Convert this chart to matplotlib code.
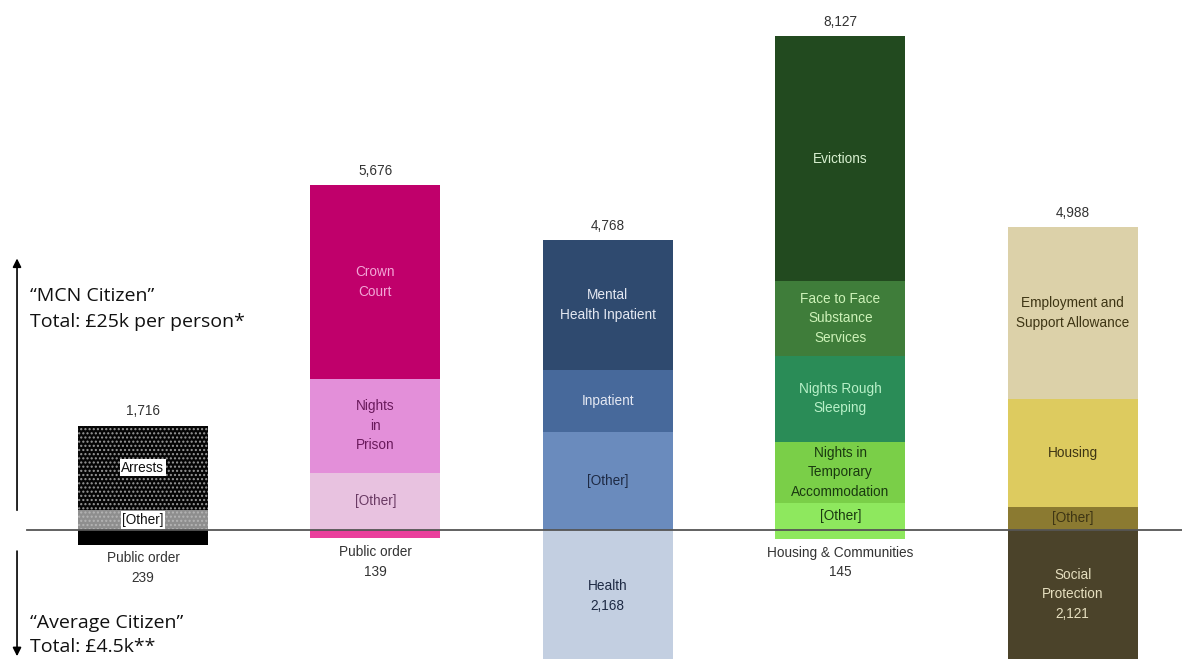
import matplotlib
matplotlib.use("Agg")
import matplotlib.pyplot as plt

# --- data -------------------------------------------------------------
categories = ["Public order", "Public order", "Health",
              "Housing & Communities", "Social Protection"]
totals = [1716, 5676, 4768, 8127, 4988]          # "MCN citizen" stack totals
average = [239, 139, 2168, 145, 2121]            # "average citizen" (below line)

# stacked segments, bottom -> top
seg_names_1 = ["[Other]", "Arrests"]
seg_vals_1 = [330, 1386]
seg_names_2 = ["[Other]", "Nights\nin\nPrison", "Crown\nCourt"]
seg_vals_2 = [940, 1550, 3186]
seg_names_3 = ["[Other]", "Inpatient", "Mental\nHealth Inpatient"]
seg_vals_3 = [1620, 1020, 2128]
seg_names_4 = ["[Other]", "Nights in\nTemporary\nAccommodation", "Nights Rough\nSleeping",
               "Face to Face\nSubstance\nServices", "Evictions"]
seg_vals_4 = [445, 1005, 1420, 1220, 4037]
seg_names_5 = ["[Other]", "Housing", "Employment and\nSupport Allowance"]
seg_vals_5 = [380, 1780, 2828]

seg_names = [seg_names_1, seg_names_2, seg_names_3, seg_names_4, seg_names_5]
seg_vals = [seg_vals_1, seg_vals_2, seg_vals_3, seg_vals_4, seg_vals_5]

# --- styling ----------------------------------------------------------
seg_colors = [
    ["#8e8e8e", "#050505"],
    ["#e8c2e0", "#e38fd9", "#c0006b"],
    ["#6a8bbd", "#47699b", "#2f4a6f"],
    ["#8ee85e", "#7acf48", "#2a8c57", "#3f7d3a", "#224a1f"],
    ["#8b7a31", "#ddcb5f", "#dcd1a9"],
]
seg_text = [
    ["#111111", "#111111"],
    ["#6a3a64", "#6a1a5c", "#f2a6d6"],
    ["#1e2a44", "#e4e8f2", "#e4e8f2"],
    ["#1a3a10", "#1a3a10", "#b8f0c8", "#cdf2b8", "#d8f0d0"],
    ["#3e3514", "#3e3514", "#3e3514"],
]
below_colors = ["#000000", "#ea3f9c", "#c3cfe1", "#8ee85e", "#4b432a"]
below_text = [None, None, "#1e2a44", None, "#e6dfbf"]

FONT = ["Liberation Sans", "DejaVu Sans"]
FS = 9.8
x = list(range(len(categories)))
width = 0.56

fig = plt.figure(figsize=(11.82, 6.59), dpi=100)
ax = fig.add_axes([0, 0, 1, 1])
ax.set_xlim(-0.615, 4.47)
ax.set_ylim(-2122, 8719)
ax.axis("off")

for i in x:
    bottom = 0
    for j, (name, val) in enumerate(zip(seg_names[i], seg_vals[i])):
        if i == 0:
            hatch_col = "#9a9a9a" if j == 1 else "#b4b4b4"
            ax.bar(i, val, width, bottom=bottom, color=seg_colors[i][j],
                   edgecolor=hatch_col, linewidth=0, hatch="....")
            ax.text(i, bottom + val / 2, name, ha="center", va="center",
                    fontsize=FS, family=FONT, color=seg_text[i][j],
                    bbox=dict(facecolor="white", edgecolor="none", pad=1.2))
        else:
            ax.bar(i, val, width, bottom=bottom, color=seg_colors[i][j], linewidth=0)
            ax.text(i, bottom + val / 2, name, ha="center", va="center",
                    fontsize=FS, family=FONT, color=seg_text[i][j],
                    linespacing=1.5)
        bottom += val
    ax.text(i, totals[i] + 120, f"{totals[i]:,}", ha="center", va="bottom",
            fontsize=FS, family=FONT, color="#333333")

    # average-citizen bar below the line
    ax.bar(i, -average[i], width, color=below_colors[i], linewidth=0)
    if below_text[i]:
        ax.text(i, -average[i] / 2, f"{categories[i].replace(' ', chr(10))}\n{average[i]:,}",
                ha="center", va="center", fontsize=FS, family=FONT,
                color=below_text[i], linespacing=1.5)
    else:
        ax.text(i, -average[i] - 110, f"{categories[i]}\n{average[i]:,}",
                ha="center", va="top", fontsize=FS, family=FONT,
                color="#333333", linespacing=1.5)

ax.axhline(0, xmin=0.023, xmax=1, color="#555555", lw=1.3, zorder=5)

# left-hand annotations
fig.patches.append(matplotlib.patches.FancyArrowPatch(
    (0.0144, 0.2215), (0.0144, 0.612), transform=fig.transFigure,
    arrowstyle="-|>,head_length=5,head_width=2.5", color="black", lw=1.2))
fig.patches.append(matplotlib.patches.FancyArrowPatch(
    (0.0144, 0.168), (0.0144, 0.0), transform=fig.transFigure,
    arrowstyle="-|>,head_length=5,head_width=2.5", color="black", lw=1.2))

LEFT_FONT = ["Open Sans", "DejaVu Sans"]
fig.text(0.0254, 0.5508, "\u201cMCN Citizen\u201d", fontsize=14, family=LEFT_FONT,
         va="center", color="#111111")
fig.text(0.0254, 0.5114, "Total: \u00a325k per person*", fontsize=14,
         family=LEFT_FONT, va="center", color="#111111")
fig.text(0.0254, 0.0546, "\u201cAverage Citizen\u201d", fontsize=14, family=LEFT_FONT,
         va="center", color="#111111")
fig.text(0.0254, 0.0182, "Total: \u00a34.5k**", fontsize=14, family=LEFT_FONT,
         va="center", color="#111111")

fig.savefig("out.png", dpi=100)
